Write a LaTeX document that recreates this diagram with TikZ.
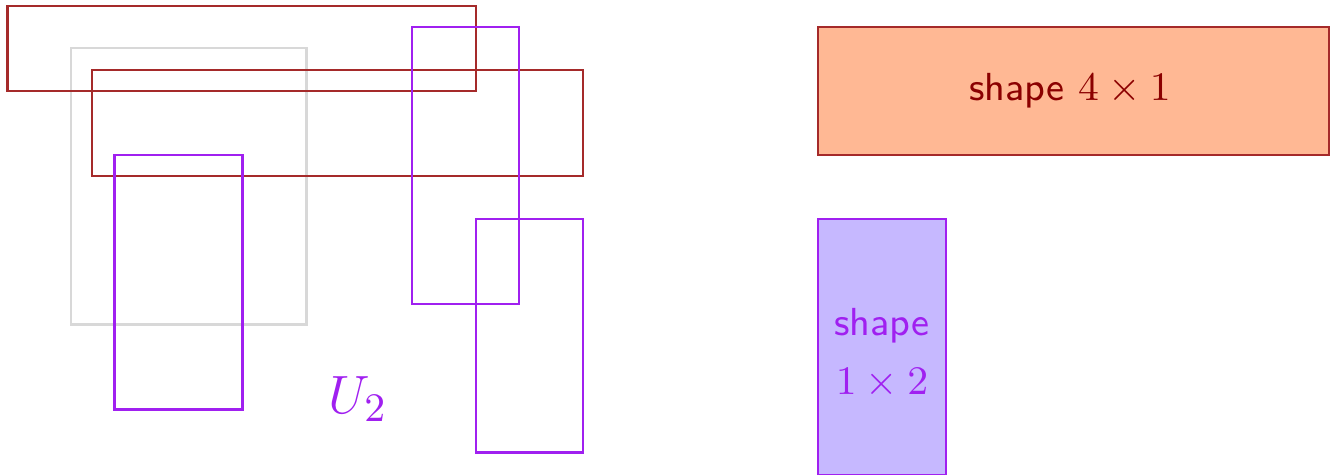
\documentclass[tikz,border=0pt]{standalone}
\usepackage{amsmath}
\usepackage{amssymb}
\usepackage{tikz}
\definecolor{shapered}{HTML}{A52A2A}
\definecolor{shapetext}{HTML}{8B0000}
\definecolor{shapepurple}{HTML}{A020F0}
\definecolor{shapeorange}{HTML}{FFB894}
\definecolor{shapelilac}{HTML}{C6B8FF}
\definecolor{shapegray}{HTML}{D8D8D8}

\begin{document}
\begin{tikzpicture}[font=\fontsize{8.7}{11.5}\selectfont\sffamily, line width=0.65pt]
			\useasboundingbox (0,0) rectangle (10.391,3.711);
			\draw[shapegray] (0.555,1.172) rectangle (2.391,3.336);
			\draw[shapered] (0.055,3.0) rectangle (3.719,3.664);
			\draw[shapered] (0.719,2.336) rectangle (4.555,3.164);
			\draw[shapepurple] (0.891,0.508) rectangle (1.891,2.5);
			\draw[shapepurple] (3.219,1.336) rectangle (4.055,3.5);
			\draw[shapepurple] (3.719,0.172) rectangle (4.555,2.0);
			\draw[shapepurple] (2.797,0.59) node (ulabel) {\fontsize{13}{15}\selectfont$U_2$};
			\draw[fill=shapeorange, draw=shapered, line width=0.6pt] (6.391,2.5) rectangle (10.383,3.5);
			\draw[fill=shapelilac, draw=shapepurple, line width=0.6pt] (6.391,0) rectangle (7.391,2.0);
			\draw[shapetext] (8.36,3.0) node (wide) {shape $4\times1$};
			\draw[shapepurple] (6.891,0.95) node[align=center] (tall) {shape\\[1.5pt] $1\times2$};
		\end{tikzpicture}
\end{document}
